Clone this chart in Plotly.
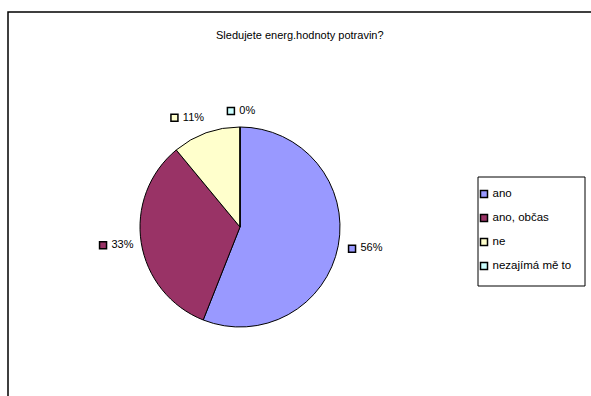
import math
import plotly.graph_objects as go

# Survey answers: "Do you watch the energy values of food?"
categories = ["ano", "ano, občas", "ne", "nezajímá mě to"]
shares = [56, 33, 11, 0]
colors = ["#9999FF", "#993366", "#FFFFCC", "#CCFFFF"]
title_text = "Sledujete energ.hodnoty potravin?"

W, H = 591, 396
FONT = "Arial, Liberation Sans, sans-serif"

# pie geometry in pixels
cx, cy, r = 240, 227, 100

fig = go.Figure()

fig.add_trace(go.Pie(
    labels=categories,
    values=shares,
    sort=False,
    direction="clockwise",
    rotation=0,
    marker=dict(colors=colors, line=dict(color="black", width=1)),
    textinfo="none",
    showlegend=False,
    domain=dict(x=[(cx - r) / W, (cx + r) / W],
                y=[1 - (cy + r) / H, 1 - (cy - r) / H]),
))

# outside percentage labels with a colour key, placed around each slice's mid-angle
total = sum(shares)
start = 0.0
lab_x, lab_y, lab_txt = [], [], []
R = 110
for v in shares:
    frac = v / total
    mid = (start + frac / 2) * 2 * math.pi
    start += frac
    s, c = math.sin(mid), math.cos(mid)
    txt = f"{round(frac * 100)}%"
    w = 14 + 6.1 * len(txt)
    h = 12
    ax = cx + R * s
    ay = cy - R * c
    sgn = 1 if s > 1e-9 else (-1 if s < -1e-9 else 0)
    bxc = ax + w / 2 * sgn * min(1.0, abs(s) * 3)
    byc = ay - h / 2 * c
    lab_x.append(bxc - w / 2 + 4)
    lab_y.append(byc)
    lab_txt.append(" " + txt)

fig.add_trace(go.Scatter(
    x=lab_x, y=lab_y, text=lab_txt,
    mode="markers+text", textposition="middle right",
    marker=dict(symbol="square", size=7, color=colors,
                line=dict(color="black", width=1.5)),
    textfont=dict(family=FONT, size=11, color="black"),
    showlegend=False, hoverinfo="skip", cliponaxis=False,
))

# legend drawn as a boxed list of keys
leg_x0, leg_y0, leg_x1, leg_y1 = 478, 177, 585, 286
leg_items_y = [194 + 24 * i for i in range(len(categories))]
fig.add_trace(go.Scatter(
    x=[leg_x0 + 6] * len(categories), y=leg_items_y,
    text=[" " + c for c in categories],
    mode="markers+text", textposition="middle right",
    marker=dict(symbol="square", size=7, color=colors,
                line=dict(color="black", width=1.5)),
    textfont=dict(family=FONT, size=11.5, color="black"),
    showlegend=False, hoverinfo="skip", cliponaxis=False,
))

fig.add_shape(type="rect", xref="x", yref="y",
              x0=leg_x0, y0=leg_y0, x1=leg_x1, y1=leg_y1,
              line=dict(color="black", width=1), fillcolor="rgba(0,0,0,0)")

# chart frame (runs past the right and bottom edges)
fig.add_shape(type="rect", xref="x", yref="y",
              x0=8, y0=12, x1=W + 20, y1=H + 20,
              line=dict(color="black", width=1.5), fillcolor="rgba(0,0,0,0)")

fig.add_annotation(x=300, y=35, xref="x", yref="y", text=title_text,
                   showarrow=False, font=dict(family=FONT, size=11, color="black"))

fig.update_xaxes(range=[0, W], visible=False, fixedrange=True)
fig.update_yaxes(range=[H, 0], visible=False, fixedrange=True)
fig.update_layout(
    width=W, height=H,
    margin=dict(l=0, r=0, t=0, b=0),
    paper_bgcolor="white", plot_bgcolor="white",
    font=dict(family=FONT, size=11, color="black"),
)

fig.write_html("out.html")
